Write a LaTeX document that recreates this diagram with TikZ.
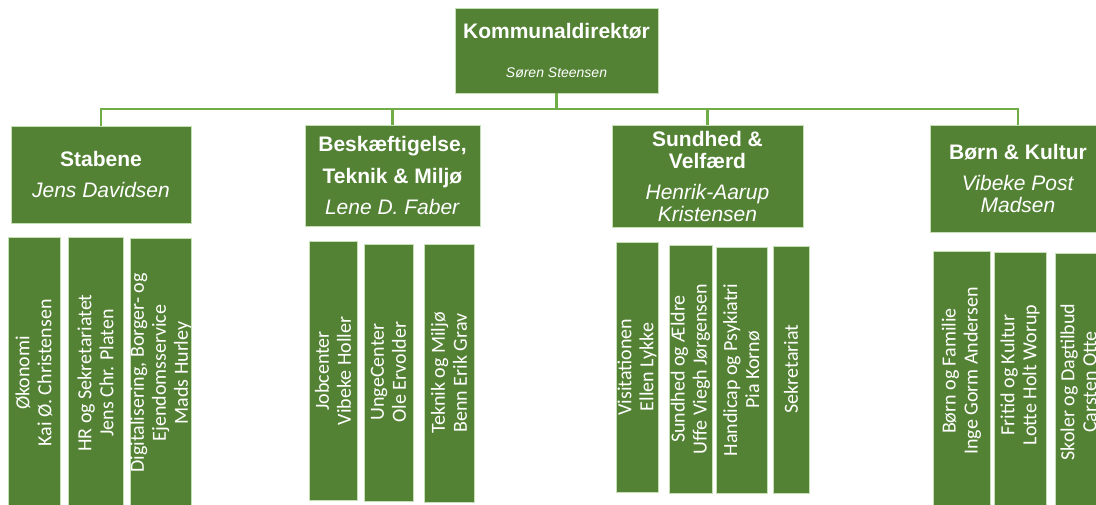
\documentclass[tikz,border=0pt]{standalone}
\usepackage{fontspec}
\setmainfont{Liberation Sans}
\newfontfamily\calfont{Carlito}
\definecolor{boxgreen}{HTML}{548235}
\definecolor{linegreen}{HTML}{70AD47}
\definecolor{edgegreen}{HTML}{C5E0B4}
\begin{document}
\begin{tikzpicture}[x=1pt,y=-1pt,
  box/.style={fill=boxgreen, draw=edgegreen, line width=0.6pt, anchor=north west, inner sep=0pt, outer sep=0pt},
  head/.style={box, text=white, align=center, font=\fontsize{21}{22}\selectfont},
  subtext/.style={rotate=90, text=white, align=center, font=\calfont\fontsize{20}{22}\selectfont, inner sep=0pt},
  conn/.style={draw=linegreen, line width=2.5pt}]
\useasboundingbox (0,0) rectangle (1096,504);
\clip (0,0) rectangle (1096,504);
\fill[white] (0,0) rectangle (1096,504);
\coordinate (bus) at (0,109);

% top
\node[head, minimum width=203pt, minimum height=85pt] (top) at (455,8)
  {\textbf{Kommunaldirektør}\\[17pt]{\fontsize{14}{16}\selectfont\itshape Søren Steensen}};

% level 2
\node[head, minimum width=180pt, minimum height=97pt] (stab) at (11,126)
  {\textbf{Stabene}\\[9pt]\textit{Jens Davidsen}};
\node[head, minimum width=175pt, minimum height=101pt] (besk) at (305,125)
  {\textbf{Beskæftigelse,}\\[10pt]\textbf{Teknik \& Miljø}\\[9pt]\textit{Lene D. Faber}};
\node[head, minimum width=191pt, minimum height=102pt] (sund) at (612,125)
  {\textbf{Sundhed \&}\\\textbf{Velfærd}\\[9pt]\textit{Henrik-Aarup}\\\textit{Kristensen}};
\node[head, minimum width=176pt, minimum height=107pt] (born) at (930,125)
  {\textbf{Børn \& Kultur}\\[9pt]\textit{Vibeke Post}\\\textit{Madsen}};

% connectors
\draw[conn] (top.south) -- (top.south |- bus) -| (stab.north);
\draw[conn] (top.south) -- (top.south |- bus) -| (besk.north);
\draw[conn] (top.south) -- (top.south |- bus) -| (sund.north);
\draw[conn] (top.south) -- (top.south |- bus) -| (born.north);

% Stabene units
\node[box, minimum width=52pt, minimum height=283pt] (a1) at (8,237) {};
\node[box, minimum width=55pt, minimum height=283pt] (a2) at (68,237) {};
\node[box, minimum width=61pt, minimum height=282pt] (a3) at (130,238) {};
\node[subtext] (a1t) at (34,373) {Økonomi\\Kai Ø. Christensen};
\node[subtext] (a2t) at (95.5,373) {HR og Sekretariatet\\Jens Chr. Platen};
\node[subtext] (a3t) at (160.5,373) {Digitalisering, Borger- og\\Ejendomsservice\\Mads Hurley};

% Beskaeftigelse units
\node[box, minimum width=48pt, minimum height=259pt] (b1) at (309,241) {};
\node[box, minimum width=49pt, minimum height=257pt] (b2) at (364,244) {};
\node[box, minimum width=50pt, minimum height=258pt] (b3) at (424,244) {};
\node[subtext] (b1t) at (333,371) {Jobcenter\\Vibeke Holler};
\node[subtext] (b2t) at (388.5,372) {UngeCenter\\Ole Ervolder};
\node[subtext] (b3t) at (449,373) {Teknik og Miljø\\Benn Erik Grav};

% Sundhed units
\node[box, minimum width=42pt, minimum height=250pt] (c1) at (616,242) {};
\node[box, minimum width=43pt, minimum height=248pt] (c2) at (669,245) {};
\node[box, minimum width=51pt, minimum height=246pt] (c3) at (716,247) {};
\node[box, minimum width=36pt, minimum height=247pt] (c4) at (773,246) {};
\node[subtext] (c1t) at (637,367) {Visitationen\\Ellen Lykke};
\node[subtext] (c2t) at (690.5,369) {Sundhed og Ældre\\Uffe Viegh Jørgensen};
\node[subtext] (c3t) at (741.5,370) {Handicap og Psykiatri\\Pia Kornø};
\node[subtext] (c4t) at (791,369) {Sekretariat};

% Boern units
\node[box, minimum width=57pt, minimum height=270pt] (d1) at (933,251) {};
\node[box, minimum width=52pt, minimum height=270pt] (d2) at (994,252) {};
\node[box, minimum width=47pt, minimum height=270pt] (d3) at (1055,253) {};
\node[subtext] (d1t) at (961.5,371) {Børn og Familie\\Inge Gorm Andersen};
\node[subtext] (d2t) at (1020,375) {Fritid og Kultur\\Lotte Holt Worup};
\node[subtext] (d3t) at (1078.5,382) {Skoler og Dagtilbud\\Carsten Otte};
\end{tikzpicture}
\end{document}
